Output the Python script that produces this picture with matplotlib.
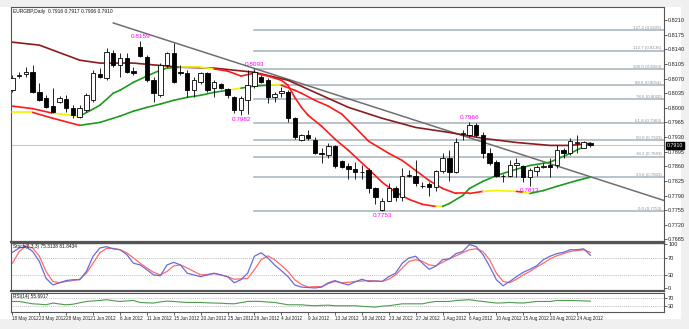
import matplotlib
matplotlib.use("Agg")
import matplotlib.pyplot as plt
from matplotlib.patches import Rectangle
from matplotlib.transforms import blended_transform_factory

plt.rcParams['font.family'] = ['Liberation Sans', 'DejaVu Sans']

# ---------------- data ----------------
chart_title = "EURGBP,Daily  0.7916 0.7917 0.7906 0.7910"

opens = [0.8042, 0.8076, 0.8080, 0.8085, 0.8037, 0.8023, 0.8004, 0.8013, 0.8021, 0.7999,
         0.7977, 0.7994, 0.8018, 0.8080, 0.8071, 0.8131, 0.8102, 0.8119, 0.8088, 0.8145,
         0.8121, 0.8066, 0.8030, 0.8102, 0.8131, 0.8085, 0.8083, 0.8042, 0.8061, 0.8083,
         0.8047, 0.8057, 0.8045, 0.8025, 0.7994, 0.8018, 0.8052, 0.8073, 0.8066, 0.8025,
         0.8035, 0.8037, 0.7975, 0.7922, 0.7934, 0.7924, 0.7893, 0.7886, 0.7908, 0.7872,
         0.7860, 0.7853, 0.7847, 0.7850, 0.7807, 0.7756, 0.7778, 0.7807, 0.7786, 0.7838,
         0.7836, 0.7814, 0.7817, 0.7810, 0.7848, 0.7879, 0.7846, 0.7937, 0.7934, 0.7958,
         0.7934, 0.7893, 0.7870, 0.7838, 0.7838, 0.7862, 0.7860, 0.7834, 0.7848, 0.7859,
         0.7862, 0.7862, 0.7898, 0.7893, 0.7916, 0.7905, 0.7916]
highs = [0.8078, 0.8085, 0.8097, 0.8102, 0.8059, 0.8030, 0.8047, 0.8028, 0.8030, 0.8006,
         0.8006, 0.8035, 0.8090, 0.8095, 0.8143, 0.8138, 0.8131, 0.8131, 0.8097, 0.8159,
         0.8126, 0.8073, 0.8107, 0.8133, 0.8155, 0.8102, 0.8090, 0.8073, 0.8085, 0.8085,
         0.8066, 0.8059, 0.8047, 0.8028, 0.8028, 0.8090, 0.8093, 0.8078, 0.8071, 0.8037,
         0.8050, 0.8042, 0.7977, 0.7937, 0.7946, 0.7929, 0.7903, 0.7915, 0.7910, 0.7874,
         0.7867, 0.7870, 0.7862, 0.7855, 0.7810, 0.7783, 0.7819, 0.7814, 0.7855, 0.7850,
         0.7874, 0.7822, 0.7822, 0.7850, 0.7893, 0.7898, 0.7927, 0.7946, 0.7966, 0.7963,
         0.7941, 0.7903, 0.7874, 0.7841, 0.7874, 0.7879, 0.7862, 0.7855, 0.7862, 0.7867,
         0.7881, 0.7910, 0.7903, 0.7927, 0.7934, 0.7920, 0.7917]
lows = [0.8037, 0.8071, 0.8073, 0.8035, 0.8016, 0.7999, 0.7987, 0.8011, 0.7989, 0.7975,
        0.7975, 0.7989, 0.8013, 0.8071, 0.8066, 0.8097, 0.8073, 0.8083, 0.8078, 0.8121,
        0.8061, 0.8013, 0.8025, 0.8097, 0.8059, 0.8078, 0.8025, 0.8025, 0.8057, 0.8037,
        0.8025, 0.8045, 0.8023, 0.7987, 0.7982, 0.7985, 0.8047, 0.8059, 0.8011, 0.8013,
        0.8025, 0.7965, 0.7925, 0.7920, 0.7922, 0.7889, 0.7867, 0.7879, 0.7855, 0.7855,
        0.7829, 0.7829, 0.7829, 0.7795, 0.7771, 0.7753, 0.7776, 0.7778, 0.7778, 0.7834,
        0.7814, 0.7807, 0.7790, 0.7802, 0.7843, 0.7826, 0.7843, 0.7922, 0.7929, 0.7929,
        0.7879, 0.7862, 0.7834, 0.7822, 0.7834, 0.7834, 0.7822, 0.7813, 0.7838, 0.7855,
        0.7834, 0.7855, 0.7881, 0.7886, 0.7893, 0.7903, 0.7906]
closes = [0.8071, 0.8078, 0.8085, 0.8037, 0.8018, 0.8001, 0.7989, 0.8023, 0.7999, 0.7982,
          0.7999, 0.8030, 0.8083, 0.8073, 0.8133, 0.8102, 0.8119, 0.8085, 0.8083, 0.8124,
          0.8066, 0.8035, 0.8102, 0.8131, 0.8061, 0.8083, 0.8042, 0.8066, 0.8083, 0.8042,
          0.8061, 0.8047, 0.8030, 0.7994, 0.8023, 0.8054, 0.8085, 0.8061, 0.8025, 0.8033,
          0.8040, 0.7975, 0.7929, 0.7934, 0.7927, 0.7891, 0.7889, 0.7908, 0.7860, 0.7858,
          0.7853, 0.7846, 0.7846, 0.7807, 0.7786, 0.7778, 0.7807, 0.7786, 0.7838, 0.7840,
          0.7819, 0.7812, 0.7810, 0.7848, 0.7879, 0.7846, 0.7917, 0.7939, 0.7958, 0.7934,
          0.7893, 0.7867, 0.7838, 0.7836, 0.7862, 0.7867, 0.7834, 0.7850, 0.7858, 0.7860,
          0.7858, 0.7898, 0.7891, 0.7920, 0.7917, 0.7917, 0.7910]

# slow moving average (dark red)
ma_long_bars = [0, 4, 10, 13, 18, 25, 30, 36, 41, 45, 50, 55, 60, 65, 70, 75, 80, 83, 86]
ma_long_vals = [0.8157, 0.8150, 0.8114, 0.8107, 0.8107, 0.8097, 0.8095, 0.8085, 0.8066, 0.8037,
                0.8001, 0.7975, 0.7953, 0.7941, 0.7927, 0.7917, 0.7910, 0.7910, 0.7915]

# fast colour-coded average: r = falling, y = flat, g = rising (colour of segment starting at each point)
ma_fast_bars = [0, 3, 6, 10, 12, 13, 15, 16, 18, 20, 22, 23, 25, 28, 30, 32, 34, 36, 38, 40,
                41, 42, 43, 44, 46, 48, 50, 53, 55, 57, 59, 61, 63, 64, 65, 67, 68, 70, 72, 75,
                77, 80, 83, 86]
ma_fast_vals = [0.8004, 0.7998, 0.7987, 0.7980, 0.7997, 0.8006, 0.8035, 0.8042, 0.8061, 0.8076,
                0.8090, 0.8095, 0.8097, 0.8097, 0.8093, 0.8088, 0.8076, 0.8083, 0.8076, 0.8066,
                0.8054, 0.8025, 0.8001, 0.7982, 0.7956, 0.7925, 0.7898, 0.7853, 0.7822, 0.7798,
                0.7781, 0.7769, 0.7764, 0.7764, 0.7771, 0.7790, 0.7807, 0.7824, 0.7838, 0.7853,
                0.7862, 0.7870, 0.7891, 0.7915]
ma_fast_cols = ['r', 'r', 'y', 'g', 'g', 'g', 'g', 'g', 'g', 'g',
                'g', 'g', 'y', 'y', 'r', 'r', 'r', 'r', 'r', 'r',
                'r', 'r', 'r', 'r', 'r', 'r', 'r', 'r', 'r', 'r',
                'r', 'r', 'y', 'g', 'g', 'g', 'g', 'g', 'g', 'g',
                'g', 'g', 'g', 'g']

# medium colour-coded average
ma_mid_bars = [0, 3, 6, 10, 13, 16, 18, 20, 22, 24, 26, 28, 30, 32, 34, 36, 38, 40, 42, 43,
               45, 47, 49, 51, 53, 56, 58, 60, 62, 64, 66, 68, 70, 72, 75, 76, 77, 79, 81, 84, 86]
ma_mid_vals = [0.7989, 0.7989, 0.7975, 0.7958, 0.7965, 0.7980, 0.7992, 0.8001, 0.8009, 0.8018,
               0.8025, 0.8030, 0.8037, 0.8042, 0.8047, 0.8052, 0.8054, 0.8054, 0.8042, 0.8035,
               0.8018, 0.8004, 0.7985, 0.7953, 0.7920, 0.7891, 0.7874, 0.7850, 0.7826, 0.7807,
               0.7795, 0.7795, 0.7800, 0.7802, 0.7800, 0.7798, 0.7795, 0.7802, 0.7812, 0.7826, 0.7834]
ma_mid_cols = ['y', 'r', 'r', 'g', 'g', 'g', 'g', 'g', 'g', 'g',
               'g', 'g', 'g', 'y', 'g', 'g', 'y', 'r', 'r', 'r',
               'r', 'r', 'r', 'r', 'r', 'r', 'r', 'r', 'r', 'r',
               'r', 'r', 'y', 'y', 'r', 'y', 'g', 'g', 'g', 'g', 'g']

# resistance trend line anchors (bar, price)
trend_bars = [15, 97]
trend_prices = [0.8203, 0.7778]

# Fibonacci retracement of the 0.7753 -> 0.8093 swing
fib_low = 0.7753
fib_high = 0.8093
fib_start_bar = 36
fib_ratios = [0.0, 23.6, 38.2, 50.0, 61.8, 78.6, 88.6, 100.0, 112.7, 127.2]

# swing highs / lows marked with their price
swing_bars = [19, 36, 34, 55, 68, 77]
swing_prices = [0.8159, 0.8093, 0.7982, 0.7753, 0.7966, 0.7813]
swing_above = [True, True, False, False, True, False]

price_ticks = [0.8210, 0.8175, 0.8140, 0.8105, 0.8070, 0.8035, 0.8000, 0.7965, 0.7930,
               0.7895, 0.7860, 0.7825, 0.7790, 0.7755, 0.7720, 0.7685]
last_price = 0.7910

stoch_main = [82, 92, 95, 84, 61, 22, 7, 12, 17, 19, 19, 38, 73, 92, 95, 90, 88, 77, 57, 53,
              42, 30, 28, 53, 59, 53, 34, 30, 26, 30, 34, 30, 26, 12, 19, 34, 73, 81, 69, 53,
              40, 26, 7, 2, 1, 0, 2, 12, 17, 11, 7, 14, 20, 15, 16, 15, 26, 34, 57, 69,
              73, 57, 43, 50, 65, 67, 79, 84, 100, 95, 77, 50, 19, 5, 15, 26, 36, 43, 51, 65,
              73, 79, 82, 88, 88, 90, 75.3138]
stoch_signal = [57, 84, 96, 92, 73, 38, 15, 12, 15, 17, 20, 34, 57, 81, 91, 91, 88, 81, 69, 57,
                46, 36, 30, 38, 51, 53, 46, 38, 30, 31, 33, 30, 26, 20, 21, 22, 42, 65, 74, 65,
                52, 38, 19, 8, 2, 3, 3, 10, 15, 12, 13, 15, 16, 17, 16, 15, 20, 30, 46, 61,
                65, 61, 53, 51, 59, 67, 74, 81, 88, 90, 84, 65, 34, 15, 12, 20, 30, 38, 48, 57,
                67, 74, 79, 84, 86, 88, 81.8434]
rsi_vals = [54, 54, 48, 42, 40, 37, 46, 41, 37, 40, 47, 54, 57, 59, 63, 58, 54, 57, 59, 49,
            47, 46, 52, 56, 54, 51, 49, 49, 49, 47, 46, 45, 43, 42, 48, 54, 55, 54, 51, 49,
            43, 37, 37, 37, 34, 32, 34, 35, 32, 32, 32, 32, 29, 27, 25, 30, 32, 37, 42, 42,
            42, 42, 49, 54, 54, 54, 59, 61, 63, 58, 54, 50, 46, 47, 49, 47, 46, 50, 54, 54,
            54, 59, 59, 59, 58, 57, 55.6917]

date_labels = ['18 May 2012', '23 May 2012', '28 May 2012', '1 Jun 2012', '6 Jun 2012',
               '11 Jun 2012', '15 Jun 2012', '20 Jun 2012', '25 Jun 2012', '29 Jun 2012',
               '4 Jul 2012', '9 Jul 2012', '13 Jul 2012', '18 Jul 2012', '23 Jul 2012',
               '27 Jul 2012', '1 Aug 2012', '6 Aug 2012', '10 Aug 2012', '15 Aug 2012',
               '20 Aug 2012', '24 Aug 2012']
date_bars = list(range(0, 88, 4))[:len(date_labels)]

# ---------------- layout ----------------
W, H = 689, 329
fig = plt.figure(figsize=(W / 100, H / 100), dpi=100, facecolor='#f0f0f0')
fig.patches.append(Rectangle((0, 1 - 319 / H), 681 / W, 312 / H, transform=fig.transFigure,
                             facecolor='white', edgecolor='none', zorder=-5))


def px_axes(top, bottom, **kw):
    return fig.add_axes([11 / W, 1 - bottom / H, 653 / W, (bottom - top) / H], **kw)


ax = px_axes(7, 241.5)
ax_st = px_axes(242.5, 291, sharex=ax)
ax_rsi = px_axes(292.5, 312, sharex=ax)

XMIN, XMAX = -0.22, 96.95
ax.set_xlim(XMIN, XMAX)
ax.set_ylim(0.76801, 0.82412)

spine_col = '#555555'
for a in (ax, ax_st, ax_rsi):
    for s in a.spines.values():
        s.set_color(spine_col)
        s.set_linewidth(0.8)
    a.yaxis.tick_right()
    a.tick_params(axis='y', labelsize=4.0, length=2, width=0.5, pad=1, colors='#222222')
    a.tick_params(axis='x', bottom=False, labelbottom=False)
ax.spines['bottom'].set_linewidth(1.6)
ax_st.spines['top'].set_linewidth(1.0)
ax_st.spines['bottom'].set_linewidth(1.6)

# ---------------- main panel ----------------
ax.set_yticks(price_ticks)
ax.set_yticklabels([f"{p:.4f}" for p in price_ticks])

fib_col = '#a7b1bb'
for r in fib_ratios:
    p = fib_low + (fib_high - fib_low) * r / 100.0
    ax.plot([fib_start_bar, XMAX], [p, p], color=fib_col, lw=1.1, zorder=1)
    ax.text(XMAX - 0.4, p + 0.0001, f"{r:.1f} ({p:.4f})", fontsize=3.2, color='#8a94a0',
            ha='right', va='bottom', zorder=2)

ax.axhline(last_price, color='#c9c9c9', lw=0.8, zorder=1)

ax.plot(trend_bars, trend_prices, color='#6f6f6f', lw=1.1, zorder=3)
ax.plot(ma_long_bars, ma_long_vals, color='#8b1c1c', lw=1.2, zorder=3)

col_map = {'r': '#ff1a1a', 'y': '#f2f200', 'g': '#1e9a1e'}
for bars, vals, cols in ((ma_fast_bars, ma_fast_vals, ma_fast_cols),
                         (ma_mid_bars, ma_mid_vals, ma_mid_cols)):
    for i in range(len(bars) - 1):
        ax.plot(bars[i:i + 2], vals[i:i + 2], color=col_map[cols[i]], lw=1.2,
                solid_capstyle='round', zorder=4)

xs = list(range(len(opens)))
ax.vlines(xs, lows, highs, color='black', lw=0.6, zorder=5)
bottoms = [min(o, c) for o, c in zip(opens, closes)]
heights = [abs(c - o) for o, c in zip(opens, closes)]
faces = ['white' if c >= o else 'black' for o, c in zip(opens, closes)]
ax.bar(xs, heights, bottom=bottoms, width=0.66, color=faces, edgecolor='black',
       linewidth=0.6, zorder=6)

for b, p, up in zip(swing_bars, swing_prices, swing_above):
    ax.annotate(f"{p:.4f}", xy=(b, p), xytext=(0, 1.5 if up else -1.5),
                textcoords='offset points', ha='center', va='bottom' if up else 'top',
                fontsize=4.6, color='#ff00ff', zorder=7)

ax.text(0.003, 0.992, chart_title, transform=ax.transAxes, fontsize=3.5, va='top',
        ha='left', color='#111111')

tr = blended_transform_factory(ax.transAxes, ax.transData)
ax.text(1.004, last_price, f"{last_price:.4f}", transform=tr, fontsize=3.8, color='white',
        va='center', ha='left', zorder=10,
        bbox=dict(boxstyle='square,pad=0.15', facecolor='black', edgecolor='black'))

# ---------------- stochastic ----------------
ax_st.set_ylim(-7, 104.6)
for lv in (70, 30):
    ax_st.axhline(lv, color='#a8a8a8', lw=0.5, ls=(0, (1.5, 1.5)))
ax_st.plot(xs, stoch_signal, color='#ff6b6b', lw=0.9)
ax_st.plot(xs, stoch_main, color='#6a6ad8', lw=0.9)
ax_st.set_yticks([100, 70, 30, 0])
ax_st.set_yticklabels(['100', '70', '30', '0'])
ax_st.text(0.003, 0.97, f"Stoch(8,3,3) {stoch_main[-1]:.4f} {stoch_signal[-1]:.4f}",
           transform=ax_st.transAxes, fontsize=3.4, va='top', ha='left', color='#111111')

# ---------------- RSI ----------------
ax_rsi.set_ylim(0, 100)
for lv in (70, 30):
    ax_rsi.axhline(lv, color='#a8a8a8', lw=0.5, ls=(0, (1.5, 1.5)))
ax_rsi.plot(xs, rsi_vals, color='#4e9a4e', lw=0.8)
ax_rsi.set_yticks([70, 30])
ax_rsi.set_yticklabels(['70', '30'])
ax_rsi.text(0.003, 0.93, f"RSI(14) {rsi_vals[-1]:.4f}", transform=ax_rsi.transAxes,
            fontsize=3.4, va='top', ha='left', color='#111111')

ax_rsi.set_xticks(date_bars)
ax_rsi.set_xticklabels(date_labels)
ax_rsi.tick_params(axis='x', bottom=True, labelbottom=True, labelsize=3.3, length=2,
                   width=0.5, pad=1, colors='#222222')
for t in ax_rsi.get_xticklabels():
    t.set_ha('left')

fig.savefig('out.png', dpi=100, facecolor=fig.get_facecolor())
